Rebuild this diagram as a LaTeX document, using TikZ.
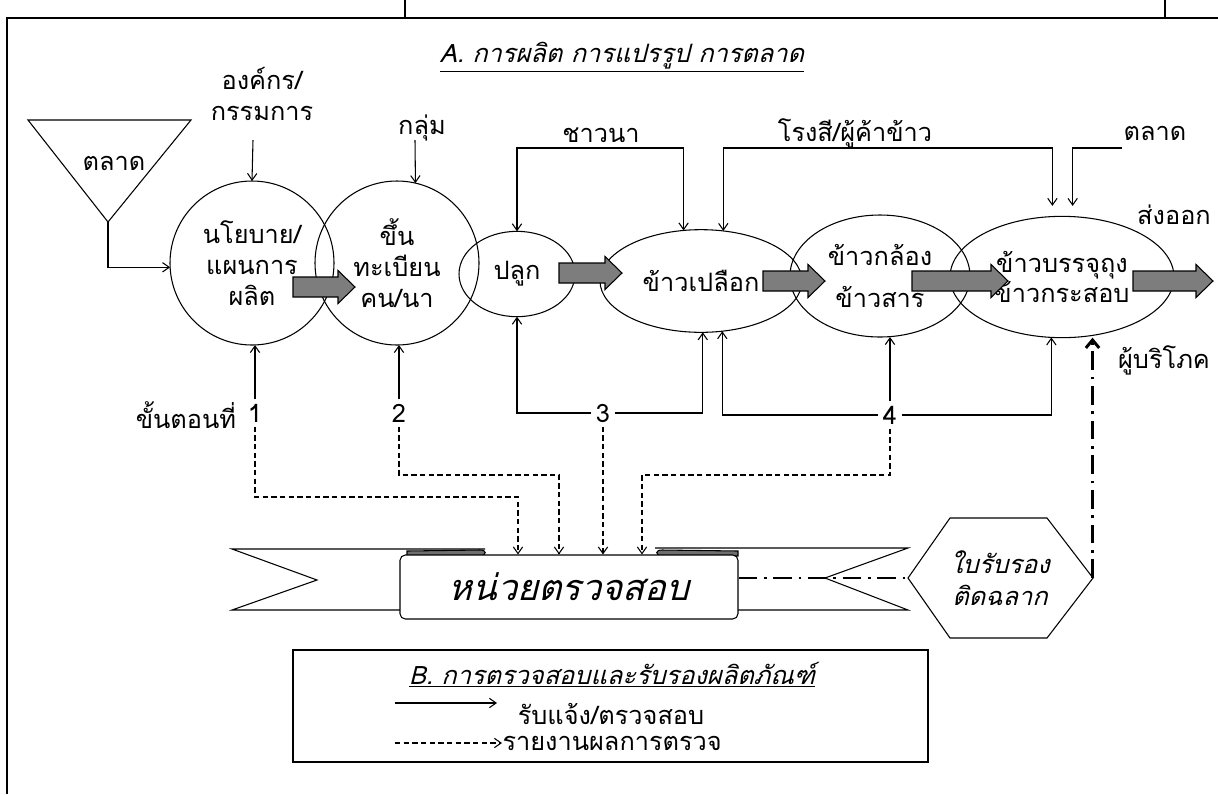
\documentclass[tikz,border=0pt]{standalone}
\usepackage{fontspec}
\setmainfont[Script=Thai]{Loma}
\newfontfamily\thaiit[Script=Thai,FakeSlant=0.25]{Loma}
\usetikzlibrary{arrows.meta,shapes.geometric}
\definecolor{arrowgray}{RGB}{125,125,125}
\definecolor{curlgray}{RGB}{110,110,110}
\newcommand\grarrow[3]{\draw[garrow] (#1,{#3-10}) -- ({#2-17},{#3-10}) -- ({#2-17},{#3-16.5}) -- (#2,#3) -- ({#2-17},{#3+16.5}) -- ({#2-17},{#3+10}) -- (#1,{#3+10}) -- cycle;}
\begin{document}
\begin{tikzpicture}[x=0.75pt,y=-0.75pt,
  line width=0.8pt,
  >={Straight Barb[length=5pt,width=7pt]},
  lbl/.style={font=\fontsize{19}{23}\selectfont, inner sep=0pt, align=center},
  ell/.style={draw, ellipse, inner sep=0pt, outer sep=0pt, align=center, font=\fontsize{19}{23}\selectfont},
  rep/.style={dash pattern=on 4pt off 2.5pt},
  dd/.style={line width=2.2pt, dash pattern=on 14pt off 5pt on 2pt off 5pt},
  garrow/.style={draw, fill=arrowgray, line width=0.8pt}]
\useasboundingbox (0,0) rectangle (1218,794);
% frame
\draw[line width=1.5pt] (7,794) -- (7,18) -- (1218,18);
\draw[line width=1.2pt] (405,0) -- (405,18) (1165,0) -- (1165,18);
% title
\node[lbl, font=\thaiit\fontsize{19}{23}\selectfont] (titleA) at (622,57) {\underline{A. การผลิต การแปรรูป การตลาด}};
% market triangle
\draw (28,120) -- (191,120) -- (108,222) -- cycle;
\coordinate (apex) at (108,222);
\node[lbl] (talad1) at (114,163) {ตลาด};
% process ellipses
\node[ell, minimum width=123pt, minimum height=123pt] (c1) at (252,263) {นโยบาย/\\แผนการ\\ผลิต};
\node[ell, minimum width=123pt, minimum height=123pt] (c2) at (397,263) {ขึ้น\\ทะเบียน\\คน/นา};
\node[ell, minimum width=87pt, minimum height=64pt] (pl) at (517,274) {ปลูก};
\node[ell, minimum width=151.5pt, minimum height=77pt] (kp) at (701,281) {ข้าวเปลือก};
\node[ell, minimum width=135pt, minimum height=91.5pt] (kk) at (880,276) {ข้าวกล้อง\\[8pt]ข้าวสาร};
\node[ell, minimum width=168pt, minimum height=91pt] (kb) at (1062,277) {ข้าวบรรจุถุง\\ข้าวกระสอบ};
% top labels
\node[lbl] (org) at (262,94) {องค์กร/\\กรรมการ};
\node[lbl] (klum) at (422,128) {กลุ่ม};
\node[lbl] (chaw) at (601,135) {ชาวนา};
\node[lbl] (rongsi) at (855,133) {โรงสี/ผู้ค้าข้าว};
\node[lbl] (talad2) at (1155,133) {ตลาด};
\node[lbl] (songok) at (1174,215) {ส่งออก};
\node[lbl] (phubo) at (1164,360) {ผู้บริโภค};
% step labels
\node[lbl] (stp) at (186,415) {ขั้นตอนที่};
\node[lbl, inner ysep=3pt] (n1) at (255,413) {1};
\node[lbl, inner ysep=3pt] (n2) at (399,413) {2};
\node[lbl, inner sep=3pt] (n3) at (603,413) {3};
\node[lbl, inner sep=3pt] (n4) at (890,415) {4};
% coordinates
\coordinate (o1) at (253,140);
\coordinate (k1) at (415,140);
\coordinate (ch) at (600,148);
\coordinate (rs) at (900,148);
\coordinate (tl2) at (1122,148);
% top connectors
\draw[->] (apex) |- (c1.183);
\draw[->] (o1) -- (c1.north);
\draw[->] (k1) -- (c2.77);
\draw[<->] (pl.north) |- (ch) -| (kp.109);
\draw[<->, shorten >=8pt] (kp.66.5) |- (rs) -| (kb.99.5);
\draw[->, shorten >=8pt] (tl2) -| (kb.80.5);
% bottom connectors
\draw[->] (n1.north) -- (n1.north |- c1.south);
\draw[->] (n2.north) -- (n2.north |- c2.south);
\draw[->] (n3.west) -| (pl.south);
\draw[->] (n3.east) -| (kp.272);
\draw[->] (n4.west) -| (kp.293.5);
\draw[->] (n4.north) -- (n4.north |- kk.south);
\draw[->] (n4.east) -| (kb.260.5);
% ribbon
\draw (485,549) -- (232,549) -- (317,580) -- (232,610) -- (400,610);
\draw (655,548) -- (908,548) -- (825,578) -- (908,610) -- (738,610);
\draw[fill=curlgray] (407,556) -- (407,551) -- (480,550) .. controls (487,550) and (487,555) .. (480,556) -- cycle;
\draw[fill=curlgray] (738,556) -- (738,551) -- (662,550) .. controls (655,550) and (655,555) .. (662,556) -- cycle;
\node[draw, fill=white, rounded corners=4pt, minimum width=253.5pt, minimum height=48pt, inner sep=0pt,
  font=\thaiit\fontsize{27}{30}\selectfont] (box) at (569,587) {หน่วยตรวจสอบ};
% dashed reports
\coordinate (d1) at (518,497);
\coordinate (d2) at (559,475);
\coordinate (d4) at (642,475);
\draw[rep,->] (n1.south) |- (d1) -- (d1 |- box.north);
\draw[rep,->] (n2.south) |- (d2) -- (d2 |- box.north);
\draw[rep,->] (n3.south) -- (n3.south |- box.north);
\draw[rep,->] (n4.south) |- (d4) -- (d4 |- box.north);
% certificate hexagon
\draw (908,578) -- (950,518) -- (1047,518) -- (1093,578) -- (1047,638) -- (950,638) -- cycle;
\node[lbl, font=\thaiit\fontsize{19}{24}\selectfont, minimum width=138pt, minimum height=90pt] (hex) at (1000,578) {ใบรับรอง\\ติดฉลาก};
\draw[dd] (box.east |- hex.west) -- (hex.west);
\draw[dd, -{Straight Barb[length=6pt,width=10pt]}] (hex.east) -- (hex.east |- kb.south);
% gray flow arrows
\grarrow{293}{355}{287}
\grarrow{559}{622}{273}
\grarrow{763}{825}{281}
\grarrow{912}{1008}{281}
\grarrow{1133}{1213}{281}
% legend
\draw (293,650) rectangle (928,762);
\node[lbl, font=\thaiit\fontsize{19}{23}\selectfont] (titleB) at (612,675) {\underline{B. การตรวจสอบและรับรองผลิตภัณฑ์}};
\node[lbl] (legA) at (611,714) {รับแจ้ง/ตรวจสอบ};
\node[lbl, anchor=west] (legB) at (502,743) {รายงานผลการตรวจ};
\coordinate (la1) at (395,703);
\coordinate (la2) at (497,703);
\coordinate (lb1) at (395,743);
\draw[->] (la1) -- (la2);
\draw[rep,->] (lb1) -- (legB.west);
\end{tikzpicture}
\end{document}
